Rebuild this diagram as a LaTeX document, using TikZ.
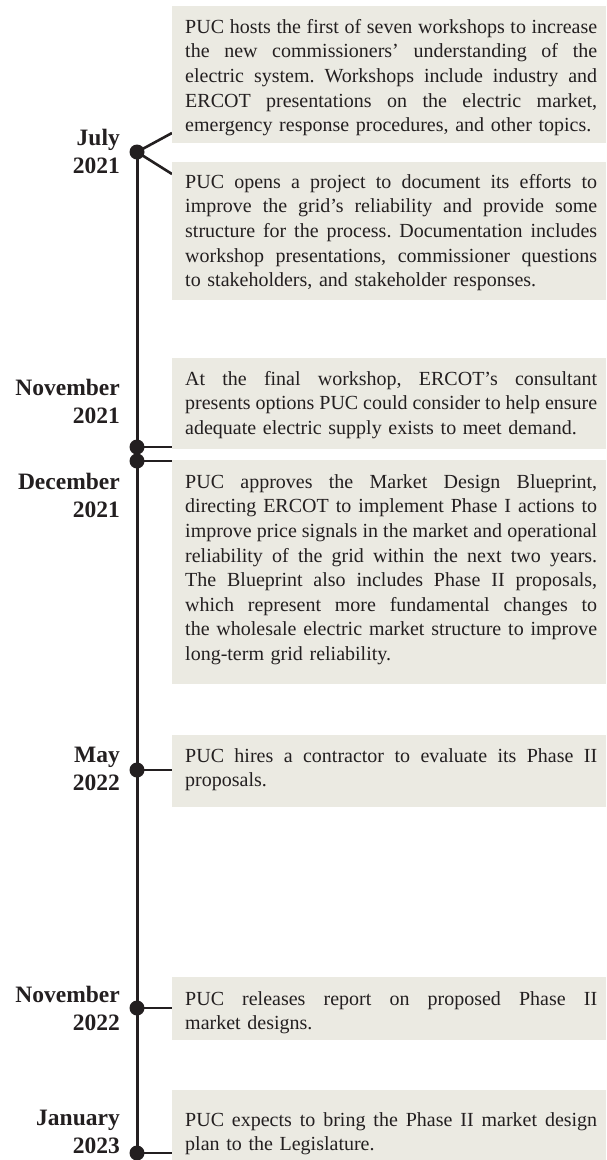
\documentclass[tikz,border=0pt]{standalone}
\usepackage{fontspec}
\setmainfont{Liberation Serif}
\usetikzlibrary{calc,backgrounds}
\definecolor{ink}{HTML}{231F20}
\definecolor{boxfill}{HTML}{EBEAE2}
\frenchspacing
\newcommand{\lst}{\rule[-7pt]{0pt}{24.6pt}}
\newcommand{\jl}[1]{\makebox[412pt][s]{\spaceskip=0.25em plus 1em minus 0.12em\xspaceskip=\spaceskip\lst #1}\\}
\newcommand{\lastl}[1]{\lst #1}
\newcommand{\dst}{\rule[-10pt]{0pt}{28pt}}
\begin{document}
\begin{tikzpicture}[x=1pt,y=-1pt,
  evbox/.style={fill=boxfill, draw=none, anchor=north west, inner sep=0pt, outer sep=0pt, minimum width=434pt},
  evtext/.style={anchor=north west, inner sep=0pt, text width=412pt, align=left,
    font=\fontsize{20}{24.6}\selectfont, text=ink},
  datelbl/.style={anchor=north east, inner sep=0pt, align=right,
    font=\fontsize{23.5}{28}\selectfont\bfseries, text=ink},
  tdot/.style={circle, fill=ink, inner sep=0pt, minimum size=15pt},
  tline/.style={draw=ink, line width=3pt},
  conn/.style={draw=ink, line width=2.6pt}]
\useasboundingbox (0,0) rectangle (606,1160);

% event boxes
\node[evbox, minimum height=137pt] (b1) at (172,6) {};
\node[evbox, minimum height=138pt] (b2) at (172,162) {};
\node[evbox, minimum height=91pt]  (b3) at (172,358) {};
\node[evbox, minimum height=224pt] (b4) at (172,460) {};
\node[evbox, minimum height=72pt]  (b5) at (172,735) {};
\node[evbox, minimum height=63pt]  (b6) at (172,977) {};
\node[evbox, minimum height=70pt]  (b7) at (172,1090) {};

% event texts
\node[evtext] (t1) at (185,15.4) {%
\jl{PUC hosts the first of seven workshops to increase}
\jl{the new commissioners’ understanding of the}
\jl{electric system. Workshops include industry and}
\jl{ERCOT presentations on the electric market,}
\lastl{emergency response procedures, and other topics.}};
\node[evtext] (t2) at (185,170.4) {%
\jl{PUC opens a project to document its efforts to}
\jl{improve the grid’s reliability and provide some}
\jl{structure for the process. Documentation includes}
\jl{workshop presentations, commissioner questions}
\lastl{to stakeholders, and stakeholder responses.}};
\node[evtext] (t3) at (185,367.4) {%
\jl{At the final workshop, ERCOT’s consultant}
\jl{presents options PUC could consider to help ensure}
\lastl{adequate electric supply exists to meet demand.}};
\node[evtext] (t4) at (185,470.4) {%
\jl{PUC approves the Market Design Blueprint,}
\jl{directing ERCOT to implement Phase I actions to}
\jl{improve price signals in the market and operational}
\jl{reliability of the grid within the next two years.}
\jl{The Blueprint also includes Phase II proposals,}
\jl{which represent more fundamental changes to}
\jl{the wholesale electric market structure to improve}
\lastl{long-term grid reliability.}};
\node[evtext] (t5) at (185,744.4) {%
\jl{PUC hires a contractor to evaluate its Phase II}
\lastl{proposals.}};
\node[evtext] (t6) at (185,987.4) {%
\jl{PUC releases report on proposed Phase II}
\lastl{market designs.}};
\node[evtext] (t7) at (185,1108.4) {%
\jl{PUC expects to bring the Phase II market design}
\lastl{plan to the Legislature.}};

% date labels
\node[datelbl] (l1) at (120,127)  {\dst July\\\dst 2021};
\node[datelbl] (l2) at (120,377)  {\dst November\\\dst 2021};
\node[datelbl] (l3) at (120,471)  {\dst December\\\dst 2021};
\node[datelbl] (l4) at (120,744)  {\dst May\\\dst 2022};
\node[datelbl] (l5) at (120,984)  {\dst November\\\dst 2022};
\node[datelbl] (l6) at (120,1107) {\dst January\\\dst 2023};

% timeline dots
\node[tdot] (dJul)  at (137,152)  {};
\node[tdot] (dNov)  at (137,447)  {};
\node[tdot] (dDec)  at (137,461)  {};
\node[tdot] (dMay)  at (137,770)  {};
\node[tdot] (dNov2) at (137,1008) {};
\node[tdot] (dJan)  at (137,1153) {};

\begin{scope}[on background layer]
\draw[tline] (dJul.center) -- (dJan.center);
\draw[conn] (dJul.center) -- ($(b1.south west)+(0,-10)$);
\draw[conn] (dJul.center) -- ($(b2.north west)+(0,12)$);
\draw[conn] (dNov.center) -- (dNov.center -| b3.west);
\draw[conn] (dDec.center) -- (dDec.center -| b4.west);
\draw[conn] (dMay.center) -- (dMay.center -| b5.west);
\draw[conn] (dNov2.center) -- (dNov2.center -| b6.west);
\draw[conn] (dJan.center) -- (dJan.center -| b7.west);
\end{scope}
\end{tikzpicture}
\end{document}
